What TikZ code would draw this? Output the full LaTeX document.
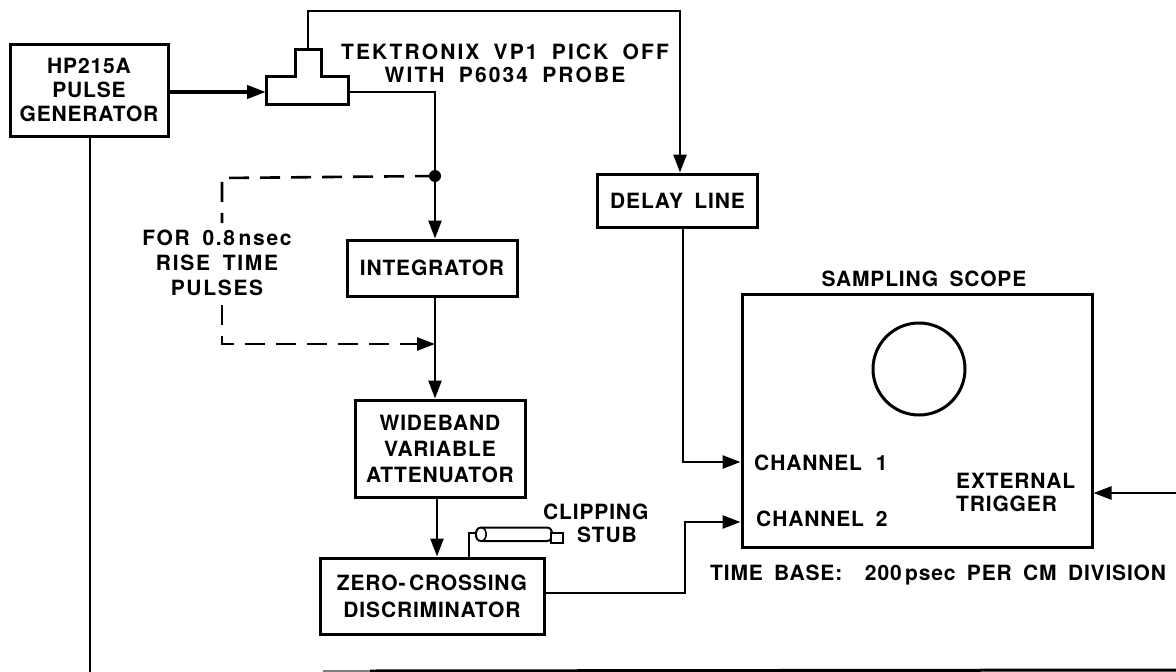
\documentclass[tikz,border=0pt]{standalone}
\usepackage{fontspec}
\setmainfont{TeX Gyre Heros}[LetterSpace=4,WordSpace=1.7]
\newfontfamily\widefont{TeX Gyre Heros}[LetterSpace=10,WordSpace=1.8]
\newfontfamily\midfont{TeX Gyre Heros}[LetterSpace=8,WordSpace=1.7]
\usetikzlibrary{arrows.meta}
\newcommand{\lbl}{\fontsize{21}{23}\selectfont\bfseries}
\tikzset{
  x=1pt,y=-1pt,
  box/.style={draw,line width=3pt,inner sep=0pt,align=center,font=\lbl},
  lab/.style={inner sep=0pt,align=center,font=\lbl},
  wire/.style={line width=2.6pt},
  tip/.style={-{Triangle[length=18pt,width=13pt]}},
  sig/.style={wire,tip},
  heavy/.style={line width=4pt,-{Triangle[length=19pt,width=13pt]}},
  dashwire/.style={line width=2.6pt,dash pattern=on 20pt off 11pt},
}
\begin{document}
\begin{tikzpicture}
\useasboundingbox (0,0) rectangle (1176,672);
\fill[white] (0,0) rectangle (1176,672);
% boxes
\node[box,minimum width=158,minimum height=92] (hp) at (89,90) {HP215A\\[1pt]PULSE\\[1pt]GENERATOR};
\draw[line width=3pt] (266,104) -- (266,76) -- (295,76) -- (295,49) -- (321,49) -- (321,76) -- (348,76) -- (348,104) -- cycle;
\coordinate (tin) at (266,92);
\coordinate (tout) at (348,92);
\coordinate (ttop) at (308,49);
\node[box,minimum width=170,minimum height=56] (int) at (432,268) {\raisebox{-3pt}{INTEGRATOR}};
\node[box,minimum width=170,minimum height=97] (att) at (440,448.5) {WIDEBAND\\[3pt]VARIABLE\\[3pt]ATTENUATOR};
\node[box,minimum width=224,minimum height=76] (zc) at (432,596) {ZERO-\,CROSSING\\[4pt]DISCRIMINATOR};
\node[box,minimum width=160,minimum height=53] (dl) at (677.5,200.5) {DELAY LINE};
\node[box,minimum width=350,minimum height=253] (sc) at (917,420.5) {};
\node[lab] (sst) at (924,279) {SAMPLING SCOPE};
\node[draw,circle,line width=3pt,minimum size=92pt,inner sep=0pt] (crt) at (919,369) {};
\node[lab,anchor=west] (ch1) at (754,463) {CHANNEL\hspace{14pt}1};
\node[lab,anchor=west] (ch2) at (756,519) {CHANNEL\hspace{12pt}2};
\node[lab,anchor=west,align=left] (ext) at (956,492) {EXTERNAL\\TRIGGER};
\node[lab] (vp) at (505,63) {\widefont\bfseries TEKTRONIX VP1 PICK OFF\\\widefont\bfseries WITH P6034 PROBE};
\node[lab] (rise) at (217,263) {\midfont\bfseries FOR\ 0.8\,nsec\\[2pt]\midfont\bfseries RISE TIME\\[2pt]\midfont\bfseries PULSES};
\node[lab,anchor=west,align=left] (clip) at (543,523) {CLIPPING\\\hspace*{34pt}STUB};
\node[lab,anchor=west] (tb) at (710,575) {TIME BASE:\ \ 200\,psec PER CM DIVISION};
% connectors
\coordinate (dot) at (435,176);
\coordinate (mer) at (435,344);
\coordinate (a2) at (437,497);
\coordinate (dtop) at (680,11);
\coordinate (c1) at (683,462);
\coordinate (c2) at (685,522);
\coordinate (zo) at (544,593);
\coordinate (et) at (1176,493);
\coordinate (hb) at (90,136);
\coordinate (hb2) at (90,672);
\coordinate (dl1) at (222,178);
\coordinate (dl2) at (222,223);
\coordinate (dl3) at (222,305);
\coordinate (dl4) at (222,344);
\coordinate (bl1) at (370,671);
\coordinate (bl2) at (1176,670);
\coordinate (tr) at (308,11);
\draw[heavy] (hp.east|-tin) -- (tin);
\draw[wire] (tout) -- (tout-|dot) -- (dot);
\fill (dot) circle (6pt);
\draw[sig] (dot) -- (dot|-int.north);
\draw[sig] (dot|-int.south) -- (dot|-att.north);
\draw[dashwire] (dot) -- (dl1) -- (dl2);
\draw[dashwire] (dl3) -- (dl4) -- (420,344);
\draw[sig] (416,344) -- (mer);
\draw[sig] (a2) -- (a2|-zc.north);
\draw[sig] (ttop) -- (tr) -- (dtop) -- (dtop|-dl.north);
\draw[sig] (c1|-dl.south) -- (c1) -- (c1-|sc.west);
\draw[sig] (zo) -- (c2|-zo) -- (c2) -- (c2-|sc.west);
\draw[sig] (et) -- (et-|sc.east);
\draw[wire] (hb) -- (hb2);
\draw[line width=3pt] (bl1) -- (bl2);
\draw[line width=3pt,gray] (323,671) -- (bl1);
% clipping stub
\coordinate (st) at (469,558);
\coordinate (sts) at (477,533);
\draw[wire] (st) -- (st|-sts) -- (sts);
\draw[line width=2pt] (481,527.5) -- (547,527.5) to[out=0,in=0,looseness=1.3] (547,541) -- (481,541) to[out=180,in=180,looseness=1.3] cycle;
\draw[line width=1.6pt] (481,527.5) to[out=0,in=0,looseness=1.3] (481,541);
\draw[line width=2pt,fill=white] (551,533) rectangle (563,543);
\end{tikzpicture}
\end{document}
